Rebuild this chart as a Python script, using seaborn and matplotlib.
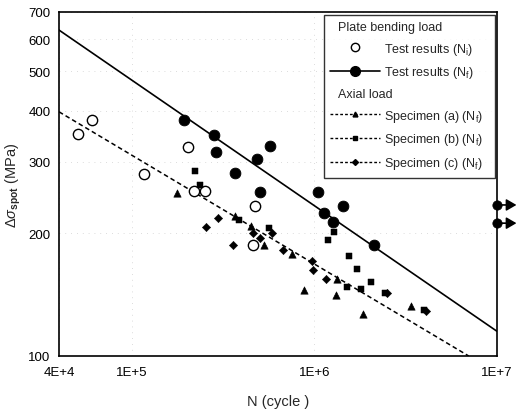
import numpy as np
import pandas as pd
import matplotlib
matplotlib.use("Agg")
import matplotlib.pyplot as plt
from matplotlib.lines import Line2D
from matplotlib.ticker import FixedLocator, FixedFormatter, NullLocator
import seaborn as sns

# --- Data (N in cycles, stress range in MPa) ---
# Plate bending load, crack initiation (N_i), open circles
ni_cycles = [5.06e4, 6.09e4, 1.17e5, 2.03e5, 2.18e5, 2.53e5, 4.74e5, 4.62e5]
ni_stress = [351, 380, 280, 327, 254, 254, 234, 187]

# Plate bending load, failure (N_f), filled circles
nf_cycles = [1.94e5, 2.84e5, 2.90e5, 3.66e5, 4.86e5, 5.74e5, 5.05e5,
             1.05e6, 1.13e6, 1.44e6, 1.26e6, 2.11e6]
nf_stress = [381, 350, 317, 281, 304, 328, 253, 253, 225, 234, 214, 187]

# Run-outs at 1E+7 cycles
runout_cycles = [1e7, 1e7]
runout_stress = [235, 212]

# Axial load specimens (N_f)
a_cycles = [1.76e5, 3.68e5, 4.50e5, 5.31e5, 7.55e5, 8.73e5, 1.33e6, 1.32e6,
            1.84e6, 3.37e6]
a_stress = [252, 221, 209, 187, 178, 145, 155, 141, 127, 133]

b_cycles = [2.21e5, 2.37e5, 3.89e5, 5.67e5, 1.19e6, 1.28e6, 1.54e6, 1.72e6,
            2.03e6, 1.51e6, 1.80e6, 2.44e6, 3.99e6]
b_stress = [285, 263, 216, 206, 193, 202, 176, 164, 152, 148, 146, 143, 130]

c_cycles = [2.54e5, 2.98e5, 3.58e5, 4.60e5, 5.05e5, 5.87e5, 6.72e5, 9.66e5,
            9.84e5, 1.16e6, 2.50e6, 4.09e6]
c_stress = [208, 218, 187, 201, 195, 201, 182, 171, 163, 155, 143, 129]

# S-N design lines (end points)
bend_line_cycles = [4e4, 1e7]
bend_line_stress = [632, 115]
axial_line_cycles = [4e4, 7e6]
axial_line_stress = [398, 100]

x_ticks = [4e4, 1e5, 1e6, 1e7]
x_labels = ["4E+4", "1E+5", "1E+6", "1E+7"]
y_ticks = [100, 200, 300, 400, 500, 600, 700]

# --- Style ---
sns.set_style("white")
plt.rcParams["font.family"] = ["Liberation Sans", "DejaVu Sans"]
plt.rcParams["mathtext.fontset"] = "custom"
plt.rcParams["mathtext.rm"] = "Liberation Sans"
plt.rcParams["mathtext.it"] = "Liberation Sans:italic"
plt.rcParams["mathtext.bf"] = "Liberation Sans:bold"

fig = plt.figure(figsize=(5.19, 4.10), dpi=100)
ax = fig.add_axes([59 / 519, 1 - 357 / 410, 438 / 519, 344 / 410])

# lines
sns.lineplot(x=bend_line_cycles, y=bend_line_stress, ax=ax, color="black",
             linewidth=1.2)
sns.lineplot(x=axial_line_cycles, y=axial_line_stress, ax=ax, color="black",
             linewidth=1.1, linestyle=(0, (3, 2)))

# points
sns.scatterplot(x=ni_cycles, y=ni_stress, ax=ax, marker="o", s=55,
                facecolor="white", edgecolor="black", linewidth=1.0, zorder=3)
sns.scatterplot(x=nf_cycles, y=nf_stress, ax=ax, marker="o", s=60,
                color="black", edgecolor="black", zorder=3)
sns.scatterplot(x=a_cycles, y=a_stress, ax=ax, marker="^", s=28,
                color="black", edgecolor="black", zorder=3)
sns.scatterplot(x=b_cycles, y=b_stress, ax=ax, marker="s", s=20,
                color="black", edgecolor="black", zorder=3)
sns.scatterplot(x=c_cycles, y=c_stress, ax=ax, marker="D", s=18,
                color="black", edgecolor="black", zorder=3)

# run-outs with arrows
sns.scatterplot(x=runout_cycles, y=runout_stress, ax=ax, marker="o", s=45,
                color="black", edgecolor="black", zorder=4, clip_on=False)
for xc, yc in zip(runout_cycles, runout_stress):
    ax.annotate("", xy=(xc, yc), xytext=(14, 0), textcoords="offset points",
                annotation_clip=False,
                arrowprops=dict(arrowstyle="<|-,head_length=0.6,head_width=0.35",
                                color="black", lw=1.2, shrinkA=0, shrinkB=0))

ax.set_xscale("log")
ax.set_yscale("log")
ax.set_xlim(4e4, 1e7)
ax.set_ylim(100, 700)

ax.xaxis.set_major_locator(FixedLocator(x_ticks))
ax.xaxis.set_major_formatter(FixedFormatter(x_labels))
ax.xaxis.set_minor_locator(NullLocator())
ax.yaxis.set_major_locator(FixedLocator(y_ticks))
ax.yaxis.set_major_formatter(FixedFormatter([str(v) for v in y_ticks]))
ax.yaxis.set_minor_locator(NullLocator())
ax.tick_params(length=0, labelsize=9.5, colors="black")
ax.tick_params(axis="x", pad=7)
ax.tick_params(axis="y", pad=6)

ax.grid(True, color="#d0d0d0", linestyle=(0, (1, 6)), linewidth=0.6)
for sp in ax.spines.values():
    sp.set_color("black")
    sp.set_linewidth(1.2)

ax.set_xlabel("N (cycle )", fontsize=10.5, labelpad=12)
ax.set_ylabel(r"$\Delta\sigma_{\mathbf{spot}}$ (MPa)", fontsize=10.5, labelpad=4)

# legend with two group headers
blank = Line2D([], [], linestyle="none", marker=None)
handles = [
    blank,
    Line2D([], [], linestyle="none", marker="o", markersize=6,
           markerfacecolor="white", markeredgecolor="black"),
    Line2D([], [], color="black", linewidth=1.2, marker="o", markersize=7),
    blank,
    Line2D([], [], color="black", linewidth=1.0, linestyle=(0, (2, 1.5)),
           marker="^", markersize=3.5),
    Line2D([], [], color="black", linewidth=1.0, linestyle=(0, (2, 1.5)),
           marker="s", markersize=3),
    Line2D([], [], color="black", linewidth=1.0, linestyle=(0, (2, 1.5)),
           marker="D", markersize=3),
]
labels = [
    "Plate bending load",
    r"Test results (N$_\mathrm{i}$)",
    r"Test results (N$_\mathrm{f}$)",
    "Axial load",
    r"Specimen (a) (N$_\mathrm{f}$)",
    r"Specimen (b) (N$_\mathrm{f}$)",
    r"Specimen (c) (N$_\mathrm{f}$)",
]
leg = ax.legend(handles, labels, loc="upper right", fontsize=9,
                handlelength=4.0, handletextpad=0.3, labelspacing=0.62,
                borderpad=0.5, borderaxespad=0.2, frameon=True,
                fancybox=False, edgecolor="black")
leg.get_frame().set_linewidth(1.0)
for i in (0, 3):
    leg.get_texts()[i].set_x(-46)

fig.savefig("out.png", dpi=100)
